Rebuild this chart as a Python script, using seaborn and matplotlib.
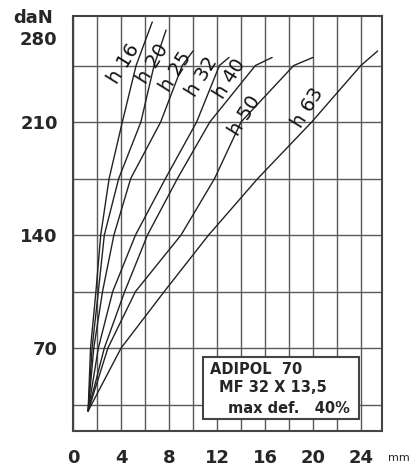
import matplotlib
matplotlib.use("Agg")
import matplotlib.pyplot as plt
import seaborn as sns
import pandas as pd
from matplotlib.patches import Rectangle

# -----------------------------
# Data
# -----------------------------
curve_names = ["h 16", "h 20", "h 25", "h 32", "h 40", "h 50", "h 63"]

h16_mm = [1.25, 1.45, 1.9, 2.3, 3.0, 4.1, 5.25, 6.6]
h16_dan = [31, 70, 105, 140, 175, 210, 245, 272]

h20_mm = [1.25, 1.58, 2.1, 2.6, 3.8, 5.65, 6.75, 7.75]
h20_dan = [31, 70, 105, 140, 175, 210, 245, 267]

h25_mm = [1.25, 1.72, 2.45, 3.4, 4.8, 7.3, 9.1, 10.0]
h25_dan = [31, 70, 105, 140, 175, 210, 245, 254]

h32_mm = [1.25, 2.1, 3.3, 5.2, 7.7, 10.3, 12.2, 13.0]
h32_dan = [31, 70, 105, 140, 175, 210, 245, 250]

h40_mm = [1.25, 2.6, 4.3, 6.2, 8.7, 11.4, 15.2, 16.6]
h40_dan = [31, 70, 105, 140, 175, 210, 245, 250]

h50_mm = [1.25, 2.9, 5.2, 9.0, 11.8, 14.0, 18.4, 20.0]
h50_dan = [31, 70, 105, 140, 175, 210, 245, 250]

h63_mm = [1.25, 4.0, 7.6, 11.3, 15.4, 19.9, 24.0, 25.4]
h63_dan = [31, 70, 105, 140, 175, 210, 245, 254]

# label anchor positions (mm, daN)
label_mm = [4.2, 6.6, 8.6, 10.7, 13.1, 14.3, 19.6]
label_dan = [246, 246, 241, 238, 237, 214, 219]

x_ticks = [0, 4, 8, 12, 16, 20, 24]
y_ticks = [70, 140, 210]

# -----------------------------
# Build table
# -----------------------------
all_mm = [h16_mm, h20_mm, h25_mm, h32_mm, h40_mm, h50_mm, h63_mm]
all_dan = [h16_dan, h20_dan, h25_dan, h32_dan, h40_dan, h50_dan, h63_dan]

rows = []
for name, xs, ys in zip(curve_names, all_mm, all_dan):
    for x, y in zip(xs, ys):
        rows.append({"curve": name, "mm": x, "daN": y})
df = pd.DataFrame(rows)

# -----------------------------
# Plot
# -----------------------------
sns.set_style("white")
plt.rcParams["font.family"] = ["DejaVu Sans"]

fig = plt.figure(figsize=(4.11, 4.70), dpi=100)
ax = fig.add_axes([0.178, 0.083, 0.751, 0.883])

sns.lineplot(
    data=df,
    x="mm",
    y="daN",
    hue="curve",
    palette=["#222222"] * len(curve_names),
    sort=False,
    estimator=None,
    linewidth=1.0,
    legend=False,
    ax=ax,
    zorder=3
)

for name, lx, ly in zip(curve_names, label_mm, label_dan):
    ax.text(lx, ly, name, rotation=58, fontsize=14, ha="center", va="center",
            color="#111111", zorder=4)

ax.set_xlim(0, 25.75)
ax.set_ylim(18.6, 275.7)

ax.set_xticks(x_ticks)
ax.set_xticks(range(2, 26, 2), minor=True)
ax.set_yticks(y_ticks)
ax.set_yticks([35, 105, 175, 245], minor=True)

ax.grid(True, which="both", color="#5a5a5a", linewidth=1.0)
ax.tick_params(which="both", length=0)
ax.tick_params(axis="x", pad=13, labelsize=13)
ax.tick_params(axis="y", pad=11, labelsize=13)
for lab in ax.get_xticklabels() + ax.get_yticklabels():
    lab.set_fontweight("bold")

for s in ax.spines.values():
    s.set_color("#444444")
    s.set_linewidth(1.5)

ax.set_xlabel("")
ax.set_ylabel("")

# axis extras
ax.text(-0.052, 0.942, "280", transform=ax.transAxes, ha="right", va="center",
        fontsize=13, fontweight="bold")
ax.text(-0.065, 0.995, "daN", transform=ax.transAxes, ha="right", va="center",
        fontsize=13, fontweight="bold")
ax.text(1.02, -0.064, "mm", transform=ax.transAxes, ha="left", va="center",
        fontsize=8)

# info box
ax.add_patch(Rectangle((0.421, 0.029), 0.505, 0.149, transform=ax.transAxes,
                       facecolor="white", edgecolor="#444444", linewidth=1.5,
                       zorder=5))
ax.text(0.443, 0.147, "ADIPOL  70", transform=ax.transAxes, fontsize=10.5,
        fontweight="bold", va="center", zorder=6)
ax.text(0.472, 0.104, "MF 32 X 13,5", transform=ax.transAxes, fontsize=10.5,
        fontweight="bold", va="center", zorder=6)
ax.text(0.502, 0.055, "max def.   40%", transform=ax.transAxes, fontsize=10.5,
        fontweight="bold", va="center", zorder=6)

fig.savefig("out.png", dpi=100)
